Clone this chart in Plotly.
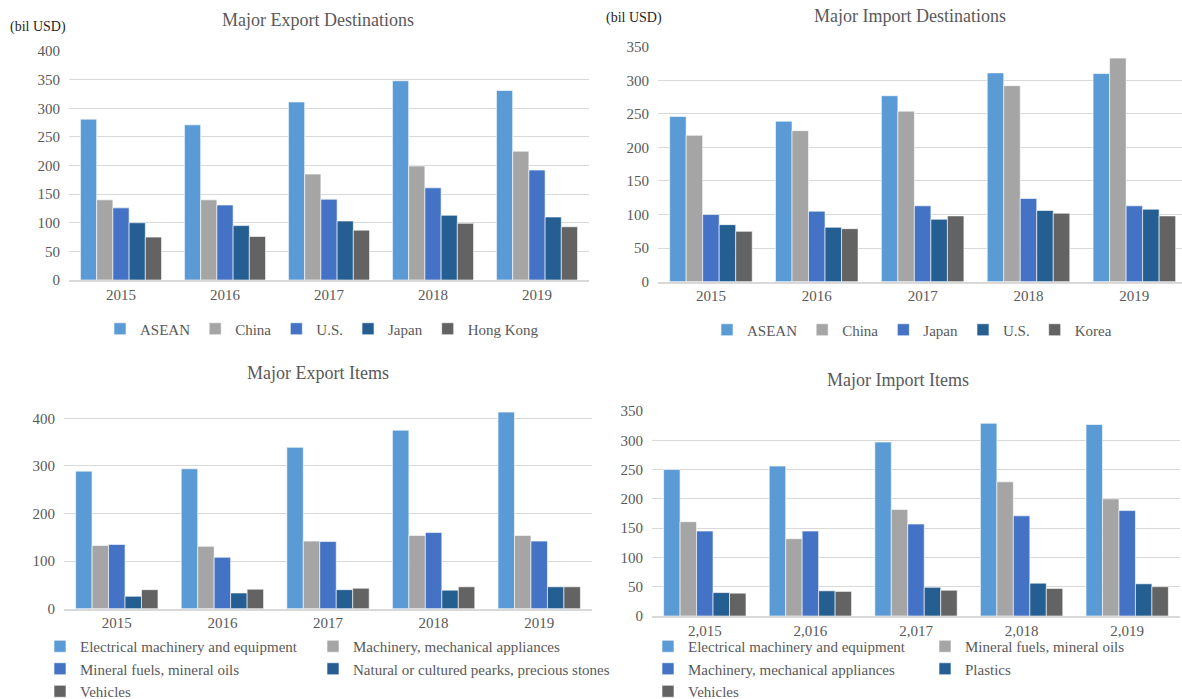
import plotly.graph_objects as go

W, H = 1182, 699

# ---------------- data ----------------
years = ["2015", "2016", "2017", "2018", "2019"]
years_comma = ["2,015", "2,016", "2,017", "2,018", "2,019"]

exp_dest_names = ["ASEAN", "China", "U.S.", "Japan", "Hong Kong"]
exp_asean = [281, 271, 311, 348, 331]
exp_china = [140, 140, 185, 199, 225]
exp_us = [126, 131, 141, 161, 192]
exp_japan = [100, 95, 103, 113, 110]
exp_hk = [75, 76, 87, 99, 93]

imp_dest_names = ["ASEAN", "China", "Japan", "U.S.", "Korea"]
imp_asean = [246, 239, 277, 311, 310]
imp_china = [218, 225, 254, 292, 333]
imp_japan = [100, 105, 113, 124, 113]
imp_us = [85, 81, 93, 106, 108]
imp_korea = [75, 79, 98, 102, 98]

exp_item_names = ["Electrical machinery and equipment", "Machinery, mechanical appliances",
                  "Mineral fuels, mineral oils", "Natural or cultured pearks, precious stones", "Vehicles"]
exp_elec = [289, 294, 339, 375, 413]
exp_mach = [133, 131, 142, 154, 154]
exp_mineral = [135, 108, 141, 160, 142]
exp_pearls = [26, 33, 40, 39, 46]
exp_vehicles = [40, 41, 43, 46, 46]

imp_item_names = ["Electrical machinery and equipment", "Mineral fuels, mineral oils",
                  "Machinery, mechanical appliances", "Plastics", "Vehicles"]
imp_elec = [250, 256, 297, 329, 327]
imp_mineral = [161, 132, 182, 229, 200]
imp_mach = [145, 145, 157, 171, 180]
imp_plastics = [40, 43, 49, 56, 55]
imp_vehicles = [39, 42, 44, 47, 50]

colors = ["#5B9BD5", "#A5A5A5", "#4472C4", "#255E91", "#636363"]

FONT = "Liberation Serif, Times New Roman, serif"
TXT = "#595959"
FS = 15


def px(x):
    return x / W


def py(y):
    return 1 - y / H


fig = go.Figure()

charts = [
    (years, [exp_asean, exp_china, exp_us, exp_japan, exp_hk], exp_dest_names,
     "x", "y", ["legend"] * 5),
    (years, [imp_asean, imp_china, imp_japan, imp_us, imp_korea], imp_dest_names,
     "x2", "y2", ["legend2"] * 5),
    (years, [exp_elec, exp_mach, exp_mineral, exp_pearls, exp_vehicles], exp_item_names,
     "x3", "y3", ["legend3", "legend4", "legend3", "legend4", "legend3"]),
    (years_comma, [imp_elec, imp_mineral, imp_mach, imp_plastics, imp_vehicles], imp_item_names,
     "x4", "y4", ["legend5", "legend6", "legend5", "legend6", "legend5"]),
]

for cats, series, names, xa, ya, legs in charts:
    for i, (vals, name) in enumerate(zip(series, names)):
        fig.add_trace(go.Bar(
            x=cats, y=vals, name=name, xaxis=xa, yaxis=ya, legend=legs[i],
            marker=dict(color=colors[i], line=dict(color="white", width=0.6)),
        ))


def xax(x0, x1, rng, anchor):
    return dict(domain=[px(x0), px(x1)], type="category", range=rng, anchor=anchor,
                showgrid=False, showline=True, linecolor="#D9D9D9", linewidth=1.5,
                ticks="", tickfont=dict(size=FS, color=TXT, family=FONT), fixedrange=True)


def yax(y_top, y_bot, rng, dtick, anchor):
    return dict(domain=[py(y_bot), py(y_top)], range=rng, anchor=anchor,
                tickmode="linear", tick0=0, dtick=dtick,
                showgrid=True, gridcolor="#D9D9D9", gridwidth=1, zeroline=False,
                showline=False, ticks="", ticklabelstandoff=8,
                tickfont=dict(size=FS, color=TXT, family=FONT), fixedrange=True)


c3_top = 608.7 - (608.7 - 418.3) * 420 / 400

legend_font = dict(size=FS, color=TXT, family=FONT)


def title_ann(text, x, y):
    return dict(text=text, x=px(x), y=py(y), xref="paper", yref="paper",
                xanchor="center", yanchor="middle", showarrow=False,
                font=dict(size=18, color=TXT, family=FONT))


fig.update_layout(
    width=W, height=H,
    margin=dict(l=0, r=0, t=0, b=0, autoexpand=False),
    paper_bgcolor="white", plot_bgcolor="white",
    font=dict(family=FONT, color=TXT),
    barmode="group", bargap=0.22, bargroupgap=0,
    xaxis=xax(69, 589, [-0.5, 4.5], "y"),
    yaxis=yax(51, 280, [0, 400], 50, "x"),
    xaxis2=xax(658, 1182, [-0.5, 4.45], "y2"),
    yaxis2=yax(46.7, 281.7, [0, 350], 50, "x2"),
    xaxis3=xax(64, 592, [-0.5, 4.5], "y3"),
    yaxis3=yax(c3_top, 608.7, [0, 420], 100, "x3"),
    xaxis4=xax(652, 1180, [-0.5, 4.5], "y4"),
    yaxis4=yax(411, 616, [0, 350], 50, "x4"),
    legend=dict(orientation="h", x=px(322), y=py(329), xanchor="center", yanchor="middle",
                font=legend_font, bgcolor="rgba(0,0,0,0)"),
    legend2=dict(orientation="h", x=px(912), y=py(330), xanchor="center", yanchor="middle",
                 font=legend_font, bgcolor="rgba(0,0,0,0)"),
    legend3=dict(orientation="v", x=px(40), y=py(630), xanchor="left", yanchor="top",
                 font=legend_font, bgcolor="rgba(0,0,0,0)"),
    legend4=dict(orientation="v", x=px(313), y=py(630), xanchor="left", yanchor="top",
                 font=legend_font, bgcolor="rgba(0,0,0,0)"),
    legend5=dict(orientation="v", x=px(648), y=py(630), xanchor="left", yanchor="top",
                 font=legend_font, bgcolor="rgba(0,0,0,0)"),
    legend6=dict(orientation="v", x=px(925), y=py(630), xanchor="left", yanchor="top",
                 font=legend_font, bgcolor="rgba(0,0,0,0)"),
    annotations=[
        title_ann("Major Export Destinations", 318, 20),
        title_ann("Major Import Destinations", 910, 16),
        title_ann("Major Export Items", 318, 373),
        title_ann("Major Import Items", 898, 380),
        dict(text="(bil USD)", x=px(8), y=py(27), xref="paper", yref="paper",
             xanchor="left", yanchor="middle",
             showarrow=False, font=dict(size=14, color="#262626", family=FONT)),
        dict(text="(bil USD)", x=px(604), y=py(18), xref="paper", yref="paper",
             xanchor="left", yanchor="middle",
             showarrow=False, font=dict(size=14, color="#262626", family=FONT)),
    ],
)

fig.write_html("out.html")
